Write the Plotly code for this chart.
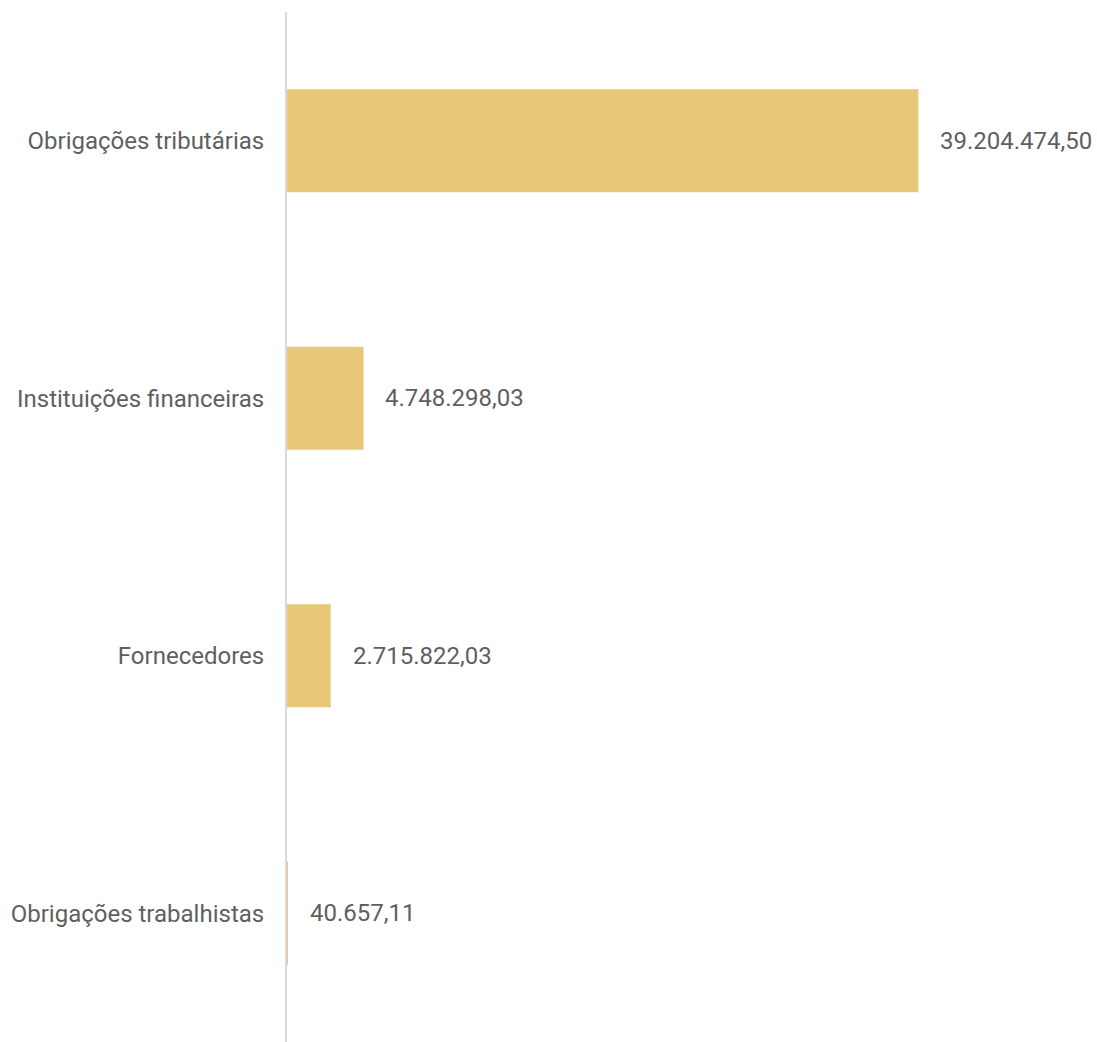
import plotly.graph_objects as go

categories = ["Obrigações tributárias", "Instituições financeiras", "Fornecedores", "Obrigações trabalhistas"]
values = [39204474.50, 4748298.03, 2715822.03, 40657.11]


def fmt_br(v):
    s = f"{v:,.2f}"
    return s.replace(",", "X").replace(".", ",").replace("X", ".")


labels = [fmt_br(v) for v in values]

txt_font = dict(family="Roboto", size=24, color="#5f5f5f")

fig = go.Figure()
fig.add_trace(go.Bar(
    x=values, y=categories, orientation="h",
    marker=dict(color="#E8C778", line=dict(width=0)),
    hoverinfo="skip",
))

# value labels to the right of each bar
for v, c, t in zip(values, categories, labels):
    fig.add_annotation(x=v, y=c, text=t, showarrow=False, xanchor="left",
                       xshift=20, font=txt_font)

fig.update_layout(
    width=1097, height=1042,
    margin=dict(l=287, r=0, t=12, b=0),
    paper_bgcolor="white", plot_bgcolor="white",
    bargap=0.6, showlegend=False,
    font=txt_font,
)
fig.update_xaxes(range=[0, 50.3e6], visible=False)
fig.update_yaxes(autorange="reversed", showline=True, linecolor="#d9d9d9", linewidth=2,
                 showgrid=False, ticks="", ticklabelstandoff=16, tickfont=txt_font)

fig.write_html("out.html", config={"displayModeBar": False},
               post_script="document.body.style.margin='0';")
